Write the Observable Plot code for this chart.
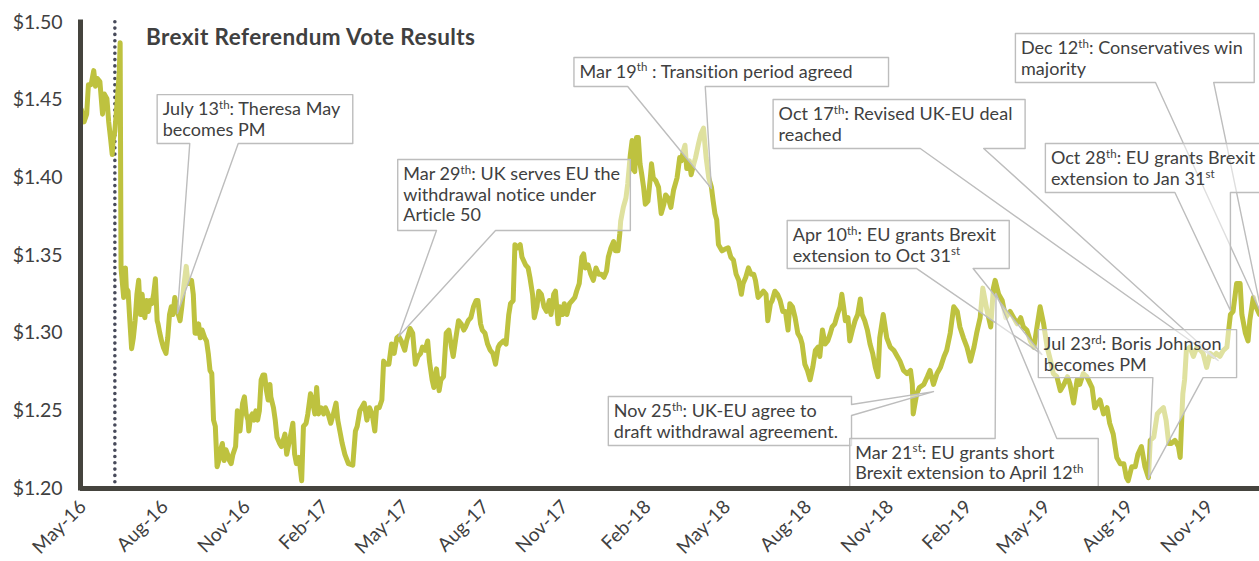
<!DOCTYPE html>
<html>
<head>
<meta charset="utf-8">
<script src="https://cdn.jsdelivr.net/npm/d3@7"></script>
<script src="https://cdn.jsdelivr.net/npm/@observablehq/plot@0.6"></script>
<style>
html,body{margin:0;padding:0;background:#fff;overflow:hidden;}
#wrap{position:relative;width:1259px;height:561px;overflow:hidden;}
#wrap svg{overflow:hidden;}
#wrap svg g[aria-label^="y-axis"] text{font-size:19.5px;}
#wrap svg g[aria-label^="x-axis"] text{font-size:19px;letter-spacing:0.2px;}
</style>
</head>
<body>
<div id="wrap"></div>
<script>
// ---------------- data ----------------
const dates = [
  "2016-05-10","2016-05-13","2016-05-16","2016-05-18","2016-05-21","2016-05-24","2016-05-26","2016-05-28","2016-05-31",
  "2016-06-03","2016-06-05","2016-06-08","2016-06-10","2016-06-12","2016-06-14","2016-06-15","2016-06-17","2016-06-20","2016-06-22","2016-06-23","2016-06-24","2016-06-27","2016-06-29","2016-06-30",
  "2016-07-02","2016-07-04","2016-07-06","2016-07-08","2016-07-10","2016-07-12","2016-07-14","2016-07-16","2016-07-18","2016-07-19","2016-07-21","2016-07-23","2016-07-25","2016-07-27","2016-07-29","2016-07-31",
  "2016-08-02","2016-08-04","2016-08-05","2016-08-07","2016-08-09","2016-08-11","2016-08-14","2016-08-16","2016-08-18","2016-08-20","2016-08-22","2016-08-24","2016-08-26","2016-08-28","2016-08-30",
  "2016-09-01","2016-09-03","2016-09-06","2016-09-08","2016-09-10","2016-09-12","2016-09-14","2016-09-16","2016-09-18","2016-09-20","2016-09-22","2016-09-24","2016-09-27","2016-09-29",
  "2016-10-01","2016-10-03","2016-10-05","2016-10-07","2016-10-09","2016-10-11","2016-10-13","2016-10-15","2016-10-17","2016-10-19","2016-10-21","2016-10-23","2016-10-25","2016-10-27","2016-10-29",
  "2016-11-01","2016-11-03","2016-11-04","2016-11-06","2016-11-09","2016-11-11","2016-11-13","2016-11-15","2016-11-16","2016-11-18","2016-11-20","2016-11-22","2016-11-24","2016-11-26","2016-11-28","2016-11-30",
  "2016-12-02","2016-12-04","2016-12-06","2016-12-08","2016-12-10","2016-12-11","2016-12-14","2016-12-16","2016-12-18","2016-12-21","2016-12-23","2016-12-27","2016-12-29",
  "2017-01-02","2017-01-05","2017-01-07","2017-01-09","2017-01-12","2017-01-15","2017-01-17","2017-01-20","2017-01-22","2017-01-25","2017-01-27","2017-01-30",
  "2017-02-01","2017-02-03","2017-02-06","2017-02-09","2017-02-11","2017-02-14","2017-02-17","2017-02-20","2017-02-23","2017-02-25","2017-02-28",
  "2017-03-02","2017-03-05","2017-03-09","2017-03-14","2017-03-17","2017-03-19","2017-03-22","2017-03-24","2017-03-27","2017-03-30",
  "2017-04-02","2017-04-05","2017-04-08","2017-04-10","2017-04-13","2017-04-16","2017-04-18","2017-04-20","2017-04-24","2017-04-27","2017-04-30",
  "2017-05-03","2017-05-05","2017-05-08","2017-05-12","2017-05-14","2017-05-18","2017-05-21","2017-05-24","2017-05-27","2017-05-30",
  "2017-06-01","2017-06-04","2017-06-07","2017-06-09","2017-06-12","2017-06-14","2017-06-17","2017-06-20","2017-06-22","2017-06-25","2017-06-28",
  "2017-07-01","2017-07-04","2017-07-06","2017-07-09","2017-07-12","2017-07-15","2017-07-18","2017-07-20","2017-07-23","2017-07-26","2017-07-29",
  "2017-08-01","2017-08-03","2017-08-06","2017-08-08","2017-08-11","2017-08-14","2017-08-17","2017-08-20","2017-08-23","2017-08-26","2017-08-28",
  "2017-09-01","2017-09-04","2017-09-07","2017-09-09","2017-09-12","2017-09-14","2017-09-17","2017-09-20","2017-09-22","2017-09-26","2017-09-29",
  "2017-10-01","2017-10-04","2017-10-06","2017-10-09","2017-10-11","2017-10-14","2017-10-17","2017-10-20","2017-10-23","2017-10-25","2017-10-28","2017-10-30",
  "2017-11-02","2017-11-04","2017-11-07","2017-11-09","2017-11-12","2017-11-15","2017-11-18","2017-11-21","2017-11-23","2017-11-26","2017-11-29",
  "2017-12-01","2017-12-03","2017-12-06","2017-12-09","2017-12-12","2017-12-15","2017-12-18","2017-12-21","2017-12-24","2017-12-27","2017-12-29",
  "2018-01-01","2018-01-04","2018-01-06","2018-01-09","2018-01-11","2018-01-12","2018-01-15","2018-01-18","2018-01-20","2018-01-23","2018-01-25","2018-01-26","2018-01-28","2018-01-30",
  "2018-02-01","2018-02-03","2018-02-05","2018-02-07","2018-02-09","2018-02-12","2018-02-15","2018-02-16","2018-02-18","2018-02-21","2018-02-24","2018-02-27",
  "2018-03-02","2018-03-04","2018-03-07","2018-03-10","2018-03-13","2018-03-17","2018-03-20","2018-03-22","2018-03-24","2018-03-26","2018-03-28","2018-03-31",
  "2018-04-02","2018-04-05","2018-04-07","2018-04-10","2018-04-13","2018-04-16","2018-04-19","2018-04-22","2018-04-25","2018-04-27","2018-04-29",
  "2018-05-01","2018-05-03","2018-05-07","2018-05-10","2018-05-14","2018-05-17","2018-05-20","2018-05-23","2018-05-26","2018-05-29","2018-05-31",
  "2018-06-03","2018-06-06","2018-06-09","2018-06-12","2018-06-14","2018-06-17","2018-06-20","2018-06-23","2018-06-26","2018-06-28",
  "2018-07-01","2018-07-03","2018-07-06","2018-07-09","2018-07-12","2018-07-15","2018-07-18","2018-07-21","2018-07-23","2018-07-26","2018-07-29",
  "2018-08-01","2018-08-04","2018-08-06","2018-08-09","2018-08-12","2018-08-15","2018-08-18","2018-08-21","2018-08-24","2018-08-26","2018-08-29",
  "2018-09-01","2018-09-04","2018-09-07","2018-09-09","2018-09-12","2018-09-15","2018-09-18","2018-09-20","2018-09-22","2018-09-24","2018-09-27","2018-09-29",
  "2018-10-02","2018-10-05","2018-10-08","2018-10-11","2018-10-13","2018-10-16","2018-10-19","2018-10-22","2018-10-25","2018-10-28","2018-10-31",
  "2018-11-02","2018-11-06","2018-11-10","2018-11-14","2018-11-18","2018-11-22","2018-11-25","2018-11-29",
  "2018-12-03","2018-12-07","2018-12-09","2018-12-10","2018-12-14","2018-12-17","2018-12-22","2018-12-26","2018-12-29",
  "2019-01-02","2019-01-06","2019-01-10","2019-01-14","2019-01-17","2019-01-21","2019-01-25","2019-01-29",
  "2019-02-01","2019-02-05","2019-02-09","2019-02-13","2019-02-17","2019-02-20","2019-02-24","2019-02-27",
  "2019-03-04","2019-03-08","2019-03-11","2019-03-13","2019-03-17","2019-03-21","2019-03-25","2019-03-30",
  "2019-04-03","2019-04-07","2019-04-11","2019-04-14","2019-04-18","2019-04-22","2019-04-26","2019-04-30",
  "2019-05-03","2019-05-07","2019-05-11","2019-05-15","2019-05-18","2019-05-22","2019-05-26","2019-05-30",
  "2019-06-03","2019-06-06","2019-06-10","2019-06-14","2019-06-17","2019-06-21","2019-06-25",
  "2019-07-01","2019-07-04","2019-07-10","2019-07-14","2019-07-18","2019-07-21","2019-07-25","2019-07-29",
  "2019-08-02","2019-08-06","2019-08-09","2019-08-11","2019-08-15","2019-08-19","2019-08-22","2019-08-26","2019-08-30",
  "2019-09-03","2019-09-05","2019-09-09","2019-09-13","2019-09-16","2019-09-20","2019-09-23","2019-09-26","2019-09-29",
  "2019-10-03","2019-10-07","2019-10-09","2019-10-11","2019-10-12","2019-10-14","2019-10-16","2019-10-20","2019-10-24","2019-10-28",
  "2019-11-01","2019-11-04","2019-11-08","2019-11-12","2019-11-16","2019-11-19","2019-11-23","2019-11-27",
  "2019-12-01","2019-12-03","2019-12-05","2019-12-08","2019-12-12","2019-12-16","2019-12-18","2019-12-22","2019-12-25","2019-12-27","2019-12-31",
  "2020-01-03","2020-01-07"
];
const rates = [
  1.444,1.436,1.441,1.460,1.460,1.469,1.459,1.464,1.462,
  1.441,1.454,1.451,1.436,1.426,1.415,1.424,1.430,1.452,1.468,1.487,1.342,1.323,1.342,1.329,
  1.327,1.308,1.290,1.297,1.308,1.325,1.334,1.312,1.325,1.317,1.310,1.321,1.314,1.321,1.319,1.325,
  1.335,1.308,1.306,1.300,1.295,1.291,1.287,1.297,1.312,1.317,1.312,1.323,1.317,1.312,1.308,
  1.317,1.329,1.343,1.332,1.332,1.334,1.325,1.300,1.300,1.306,1.297,1.302,1.297,1.295,
  1.287,1.276,1.274,1.244,1.240,1.214,1.218,1.225,1.229,1.218,1.225,1.222,1.218,1.216,1.222,
  1.227,1.250,1.248,1.237,1.255,1.259,1.248,1.244,1.237,1.246,1.248,1.244,1.250,1.244,1.250,1.270,
  1.273,1.273,1.263,1.257,1.267,1.259,1.252,1.244,1.233,1.229,1.227,1.235,1.222,
  1.233,1.242,1.222,1.216,1.220,1.205,1.240,1.242,1.248,1.261,1.257,1.248,
  1.265,1.248,1.252,1.248,1.252,1.248,1.242,1.248,1.255,1.244,1.235,
  1.229,1.222,1.216,1.215,1.237,1.240,1.250,1.252,1.255,1.244,
  1.252,1.248,1.237,1.252,1.252,1.257,1.282,1.280,1.280,1.293,1.287,
  1.297,1.298,1.295,1.289,1.295,1.303,1.300,1.280,1.285,1.287,
  1.291,1.289,1.295,1.282,1.270,1.265,1.277,1.263,1.270,1.272,1.300,
  1.302,1.291,1.285,1.297,1.308,1.306,1.302,1.304,1.308,1.310,1.317,
  1.321,1.321,1.306,1.302,1.300,1.293,1.289,1.287,1.280,1.291,1.293,
  1.295,1.293,1.312,1.319,1.321,1.357,1.355,1.357,1.349,1.344,1.342,
  1.336,1.325,1.310,1.317,1.327,1.325,1.317,1.314,1.321,1.312,1.325,1.327,
  1.306,1.317,1.312,1.319,1.312,1.319,1.321,1.323,1.327,1.332,1.349,
  1.351,1.342,1.344,1.338,1.334,1.342,1.338,1.338,1.336,1.340,1.349,
  1.355,1.359,1.353,1.353,1.364,1.372,1.381,1.387,1.396,1.415,1.424,1.406,1.404,1.426,
  1.426,1.409,1.402,1.394,1.383,1.385,1.402,1.409,1.400,1.398,1.394,1.377,
  1.383,1.389,1.387,1.381,1.392,1.400,1.413,1.411,1.417,1.421,1.406,1.411,
  1.402,1.409,1.413,1.421,1.428,1.432,1.413,1.400,1.394,1.385,1.377,
  1.373,1.357,1.353,1.354,1.355,1.349,1.347,1.338,1.334,1.325,1.332,
  1.336,1.342,1.338,1.338,1.334,1.323,1.325,1.327,1.325,1.308,
  1.319,1.321,1.327,1.325,1.321,1.314,1.314,1.302,1.319,1.317,1.310,
  1.300,1.297,1.293,1.280,1.276,1.270,1.278,1.289,1.291,1.285,1.302,
  1.293,1.295,1.300,1.304,1.306,1.312,1.317,1.325,1.317,1.308,1.310,1.295,
  1.302,1.308,1.312,1.322,1.312,1.308,1.302,1.293,1.287,1.278,1.272,
  1.297,1.312,1.297,1.291,1.289,1.285,1.282,1.276,
  1.274,1.276,1.267,1.248,1.261,1.265,1.267,1.272,1.276,
  1.267,1.274,1.278,1.285,1.289,1.300,1.317,1.314,
  1.304,1.297,1.291,1.282,1.291,1.300,1.310,1.329,
  1.314,1.304,1.329,1.334,1.325,1.321,1.310,1.314,
  1.310,1.306,1.310,1.304,1.302,1.295,1.291,1.306,
  1.317,1.306,1.291,1.282,1.274,1.272,1.263,1.267,
  1.272,1.267,1.255,1.270,1.267,1.274,1.272,
  1.265,1.252,1.257,1.248,1.252,1.242,1.235,1.220,
  1.216,1.216,1.207,1.205,1.214,1.214,1.222,1.227,1.214,
  1.207,1.231,1.233,1.248,1.250,1.252,1.244,1.229,1.229,
  1.231,1.227,1.220,1.248,1.261,1.270,1.289,1.291,1.285,1.291,
  1.289,1.287,1.278,1.287,1.285,1.287,1.285,1.289,
  1.291,1.302,1.312,1.314,1.332,1.332,1.312,1.300,1.295,1.308,1.323,
  1.317,1.312
];

const tickDates = ["2016-05-12","2016-08-13","2016-11-14","2017-02-11","2017-05-13","2017-08-12","2017-11-10",
  "2018-02-12","2018-05-13","2018-08-13","2018-11-14","2019-02-11","2019-05-11","2019-08-13","2019-11-12"];
const tickLabels = ["May-16","Aug-16","Nov-16","Feb-17","May-17","Aug-17","Nov-17",
  "Feb-18","May-18","Aug-18","Nov-18","Feb-19","May-19","Aug-19","Nov-19"];
const yTicks = [1.20, 1.25, 1.30, 1.35, 1.40, 1.45, 1.50];
const yTickLabels = ["$1.20","$1.25","$1.30","$1.35","$1.40","$1.45","$1.50"];
const xDomain = ["2016-05-09", "2020-01-07"];
const yDomain = [1.20, 1.50];
const voteMarker = "2016-06-17";
const title = "Brexit Referendum Vote Results";

// callouts: box = [left date, right date, top value, bottom value]
const notes = [
  {text: "July 13^th^: Theresa May\nbecomes PM", box: ["2016-08-04","2017-03-14",1.4536,1.4221], side: "bottom", base: ["2016-09-10","2016-11-04"], tip: ["2016-08-27",1.3127]},
  {text: "Mar 29^th^: UK serves EU the\nwithdrawal notice under\nArticle 50", box: ["2017-05-04","2018-01-23",1.4118,1.3661], side: "bottom", base: ["2017-06-17","2017-08-23"], tip: ["2017-05-05",1.2978]},
  {text: "Mar 19^th^ : Transition period agreed", box: ["2017-11-20","2018-11-12",1.4775,1.4588], side: "bottom", base: ["2018-01-20","2018-04-18"], tip: ["2018-04-25",1.3931]},
  {text: "Oct 17^th^: Revised UK-EU deal\nreached", box: ["2018-07-04","2019-04-16",1.4504,1.4189], side: "bottom", base: ["2018-12-18","2019-02-28"], tip: ["2019-11-21",1.2824]},
  {text: "Apr 10^th^: EU grants Brexit\nextension to Oct 31^st^", box: ["2018-07-20","2019-03-29",1.3725,1.3416], side: "bottom", base: ["2018-12-14","2019-02-16"], tip: ["2019-05-05",1.2863]},
  {text: "Nov 25^th^: UK-EU agree to\ndraft withdrawal agreement.", box: ["2017-12-29","2018-10-01",1.2592,1.2277], side: "right", base: [1.2541,1.2470], tip: ["2019-01-02",1.2624]},
  {text: "Mar 21^st^: EU grants short\nBrexit extension to April 12^th^", box: ["2018-09-29","2019-07-08",1.2322,1.2006], side: "top", base: ["2019-03-13","2019-05-22"], tip: ["2019-03-14",1.3255]},
  {text: "Jul 23^rd^: Boris Johnson\nbecomes PM", box: ["2019-05-01","2019-12-12",1.3023,1.2714], side: "bottom", base: ["2019-09-08","2019-11-04"], tip: ["2019-09-03",1.2064]},
  {text: "Dec 12^th^: Conservatives win\nmajority", box: ["2019-04-05","2020-01-01",1.4929,1.4614], side: "bottom", base: ["2019-09-11","2019-11-16"], tip: ["2020-01-10",1.3114]},
  {text: "Oct 28^th^: EU grants Brexit\nextension to Jan 31^st^", box: ["2019-05-09","2020-02-10",1.4221,1.3906], side: "bottom", base: ["2019-10-03","2019-12-05"], tip: ["2019-12-05",1.3146]}
];

// ---------------- build ----------------
const parse = s => new Date(s + "T00:00:00Z");
const series = dates.map((d, i) => ({date: parse(d), rate: rates[i]}));

function calloutPolygon(n, id) {
  const xl = parse(n.box[0]), xr = parse(n.box[1]);
  const yt = n.box[2], yb = n.box[3];
  const tip = [parse(n.tip[0]), n.tip[1]];
  let pts;
  if (n.side === "bottom") {
    const a = parse(n.base[0]), b = parse(n.base[1]);
    pts = [[xl, yt], [xr, yt], [xr, yb], [b, yb], tip, [a, yb], [xl, yb]];
  } else if (n.side === "top") {
    const a = parse(n.base[0]), b = parse(n.base[1]);
    pts = [[xl, yt], [a, yt], tip, [b, yt], [xr, yt], [xr, yb], [xl, yb]];
  } else {
    const a = n.base[0], b = n.base[1];
    pts = [[xl, yt], [xr, yt], [xr, a], tip, [xr, b], [xr, yb], [xl, yb]];
  }
  return pts.map(([x, y]) => ({id, x, y}));
}
const polygons = notes.flatMap((n, i) => calloutPolygon(n, i));

const xLabelOf = new Map(tickDates.map((d, i) => [+parse(d), tickLabels[i]]));
const yLabelOf = new Map(yTicks.map((v, i) => [v.toFixed(2), yTickLabels[i]]));
const AXIS = "#45443e";

const plot = Plot.plot({
  width: 1259,
  height: 561,
  marginLeft: 80,
  marginRight: 0,
  marginTop: 22,
  marginBottom: 73,
  style: {fontFamily: "Lato, sans-serif", color: "#404040", background: "transparent", overflow: "hidden"},
  x: {type: "utc", domain: xDomain.map(parse), ticks: tickDates.map(parse), tickFormat: d => xLabelOf.get(+d),
      tickRotate: -45, tickSize: 0, tickPadding: 15, label: null},
  y: {domain: yDomain, ticks: yTicks, tickFormat: v => yLabelOf.get(v.toFixed(2)), tickSize: 0, tickPadding: 18, label: null},
  marks: [
    Plot.ruleX([parse(voteMarker)], {y1: 1.2, y2: 1.503, stroke: "#474a5a", strokeWidth: 3.6, strokeDasharray: "0 6.3", strokeLinecap: "round"}),
    Plot.line(series, {x: "date", y: "rate", stroke: "#bec23f", strokeWidth: 5, strokeLinejoin: "round", strokeLinecap: "round", clip: true}),
    Plot.line(polygons, {x: "x", y: "y", z: "id", curve: "linear-closed", fill: "white", fillOpacity: 0.5, stroke: "#bdbdbd", strokeWidth: 1.4}),
    Plot.ruleX([parse(xDomain[0])], {y1: yDomain[0], y2: yDomain[1], stroke: AXIS, strokeWidth: 5, strokeLinecap: "square"}),
    Plot.ruleY([yDomain[0]], {stroke: AXIS, strokeWidth: 5})
  ]
});

document.getElementById("wrap").appendChild(plot);

// callout texts (with superscripts) positioned through the plot's scales
const sx = plot.scale("x"), sy = plot.scale("y");
const X = d3.scaleUtc(sx.domain, sx.range);
const Y = d3.scaleLinear(sy.domain, sy.range);
const svg = d3.select(plot);
const g = svg.append("g")
  .attr("font-family", "Lato, sans-serif").attr("font-size", 18)
  .attr("letter-spacing", "0.05px")
  .attr("fill", "#404040").attr("text-anchor", "start");

notes.forEach(n => {
  const x0 = X(parse(n.box[0])) + 6;
  const y0 = Y(n.box[2]) + 21;
  n.text.split("\n").forEach((line, j) => {
    const t = g.append("text").attr("x", x0).attr("y", y0 + j * 20.5).attr("text-anchor", "start");
    const parts = line.split("^");
    parts.forEach((p, k) => {
      if (!p) return;
      const ts = t.append("tspan").text(p);
      if (k % 2 === 1) ts.attr("font-size", 11.5).attr("dy", -6.5);
      else if (k > 0) ts.attr("dy", 6.5);
    });
  });
});

svg.append("text")
  .attr("x", 146).attr("y", 45)
  .attr("text-anchor", "start")
  .attr("font-family", "Lato, sans-serif").attr("font-weight", "bold").attr("font-size", 22.5)
  .attr("letter-spacing", "0.4px")
  .attr("fill", "#404040")
  .text(title);
</script>
</body>
</html>
